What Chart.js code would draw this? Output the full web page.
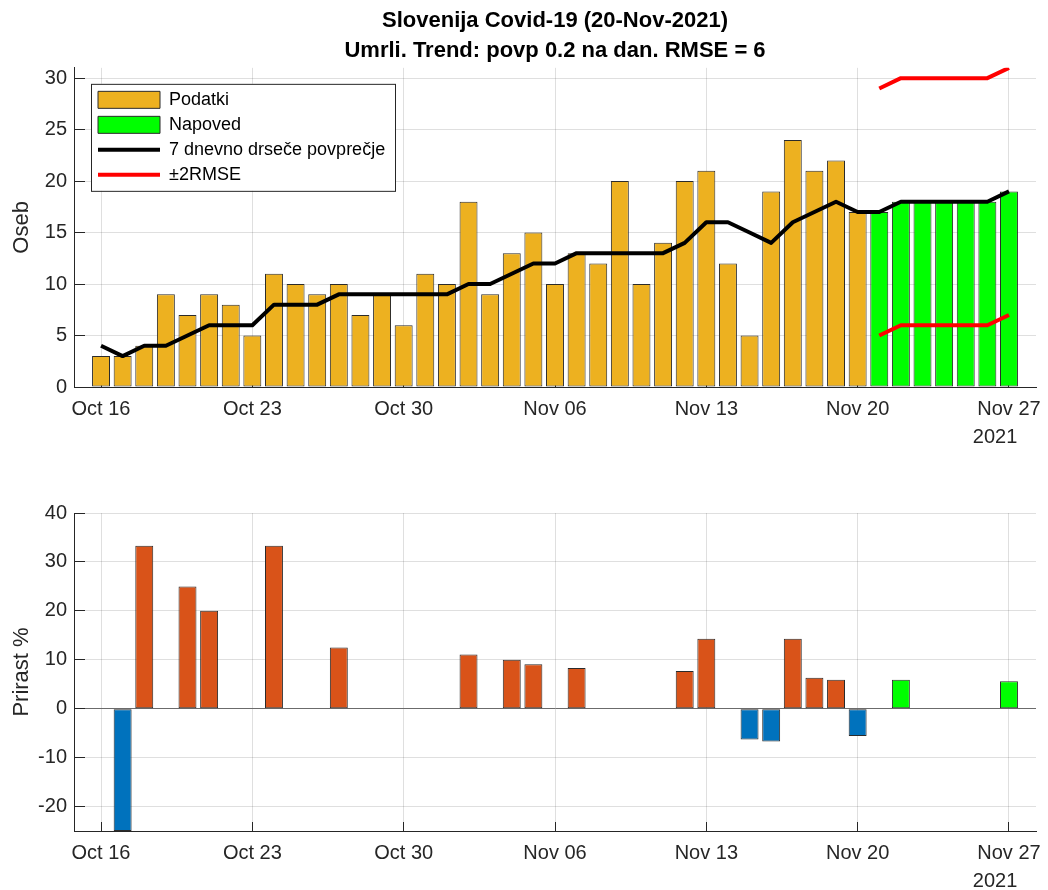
<!DOCTYPE html>
<html>
<head>
<meta charset="utf-8">
<script src="https://cdn.jsdelivr.net/npm/chart.js@4.4.1/dist/chart.umd.min.js"></script>
<style>
body { margin: 0; background: #fff; }
#wrap { position: relative; width: 1048px; height: 890px; }
#top { position: absolute; left: 0; top: 0; }
#bottom { position: absolute; left: 0; top: 460px; }
</style>
</head>
<body>
<div id="wrap">
<canvas id="top" width="1048" height="460"></canvas>
<canvas id="bottom" width="1048" height="430"></canvas>
</div>
<script>
// day 0 = Oct 16 2021
var tickDays = [0, 7, 14, 21, 28, 35, 42];
var tickLabels = ['Oct 16', 'Oct 23', 'Oct 30', 'Nov 06', 'Nov 13', 'Nov 20', ['Nov 27', '2021     ']];

// umrli, Oct 16 - Nov 20
var deaths = [3, 3, 4, 9, 7, 9, 8, 5, 11, 10, 9, 10, 7, 9, 6, 11, 10, 18, 9, 13, 15, 10,
	13, 12, 20, 10, 14, 20, 21, 12, 5, 19, 24, 21, 22, 17];
var deathsStart = 0;
// napoved, Nov 21 - Nov 27
var forecast = [17, 18, 18, 18, 18, 18, 19];
var forecastStart = 36;
// 7 dnevno drsece povprecje, Oct 16 - Nov 27
var average = [4, 3, 4, 4, 5, 6, 6, 6, 8, 8, 8, 9, 9, 9, 9, 9, 9, 10, 10, 11, 12, 12, 13, 13,
	13, 13, 13, 14, 16, 16, 15, 14, 16, 17, 18, 17, 17, 18, 18, 18, 18, 18, 19];
// +-2RMSE, Nov 21 - Nov 27
var upperBand = [29, 30, 30, 30, 30, 30, 31];
var lowerBand = [5, 6, 6, 6, 6, 6, 7];
// prirast %, Oct 17 - Nov 20
var growth = [-25, 33.3, 0, 25, 20, 0, 0, 33.3, 0, 0, 12.5, 0, 0, 0, 0, 0, 11.1, 0, 10, 9.1,
	0, 8.3, 0, 0, 0, 0, 7.7, 14.3, 0, -6.3, -6.7, 14.3, 6.3, 5.9, -5.6];
var growthStart = 1;
// prirast % napoved, Nov 21 - Nov 27
var growthForecast = [0, 5.9, 0, 0, 0, 0, 5.6];

var topTicks = [0, 5, 10, 15, 20, 25, 30];
var bottomTicks = [-20, -10, 0, 10, 20, 30, 40];

var YELLOW = '#EDB120';
var GREEN = '#00FF00';
var ORANGE = '#D95319';
var BLUE = '#0072BD';
var EDGE = '#2b2b2b';
var AXIS = '#262626';
var GRID = 'rgba(38,38,38,0.15)';

Chart.defaults.font.family = "'Liberation Sans', Arial, sans-serif";
Chart.defaults.color = AXIS;

function points(first, values) {
	return values.map(function(v, i) {
		return {x: first + i, y: v};
	});
}

function setTicks(list) {
	return function(scale) {
		scale.ticks = list.map(function(v) {
			return {value: v};
		});
	};
}

function fixWidth(w) {
	return function(scale) {
		scale.width = w;
		scale.paddingTop = scale.paddingBottom = 0;
	};
}

function fixHeight(h) {
	return function(scale) {
		scale.height = h;
		scale.paddingLeft = scale.paddingRight = 0;
	};
}

function xScale(height) {
	return {
		type: 'linear',
		min: -1.25,
		max: 43.25,
		offset: false,
		afterBuildTicks: setTicks(tickDays),
		afterFit: fixHeight(height),
		ticks: {
			autoSkip: false,
			maxRotation: 0,
			padding: 17,
			font: {size: 20, lineHeight: 1.4},
			color: AXIS,
			callback: function(value) {
				return tickLabels[tickDays.indexOf(value)];
			}
		},
		grid: {offset: false, color: GRID, tickColor: AXIS, tickLength: -9},
		border: {color: AXIS, width: 1}
	};
}

function yScale(min, max, list, title, gridColor) {
	return {
		min: min,
		max: max,
		afterBuildTicks: setTicks(list),
		afterFit: fixWidth(74),
		ticks: {padding: 18, font: {size: 20}, color: AXIS},
		grid: {color: gridColor || GRID, tickColor: AXIS, tickLength: -11},
		border: {color: AXIS, width: 1},
		title: {display: true, text: title, font: {size: 22}, color: AXIS, padding: {top: 9, bottom: 0}}
	};
}

// legend frame + shift into the plot, legend itself is the library's
var legendFrame = {
	id: 'legendFrame',
	afterInit: function(chart) {
		var legend = chart.legend;
		var draw = legend.draw.bind(legend);
		legend.draw = function() {
			var ctx = chart.ctx;
			var area = chart.chartArea;
			var pad = legend.options.labels.padding;
			var x0 = Infinity, y0 = Infinity, x1 = -Infinity, y1 = -Infinity;
			legend.legendHitBoxes.forEach(function(b) {
				x0 = Math.min(x0, b.left);
				y0 = Math.min(y0, b.top);
				x1 = Math.max(x1, b.left + b.width);
				y1 = Math.max(y1, b.top + b.height);
			});
			ctx.save();
			ctx.translate(area.left - legend.left + 17, area.top - legend.top + 16);
			ctx.fillStyle = '#fff';
			ctx.fillRect(x0 - pad, y0 - pad, x1 - x0 + 2 * pad + 3, y1 - y0 + 2 * pad);
			ctx.strokeStyle = AXIS;
			ctx.lineWidth = 1;
			ctx.strokeRect(Math.round(x0 - pad) + 0.5, Math.round(y0 - pad) + 0.5,
				Math.round(x1 - x0 + 2 * pad + 3), Math.round(y1 - y0 + 2 * pad));
			draw();
			ctx.restore();
		};
	}
};

var barStyle = {
	type: 'bar',
	grouped: false,
	barPercentage: 0.83,
	categoryPercentage: 1,
	borderWidth: 1,
	borderColor: EDGE,
	borderSkipped: false,
	order: 2
};

var lineStyle = {
	type: 'line',
	borderWidth: 4,
	pointRadius: 0,
	tension: 0,
	fill: false,
	borderJoinStyle: 'round',
	order: 1
};

var topChart = new Chart(document.getElementById('top'), {
	data: {
		datasets: [
			Object.assign({}, barStyle, {label: 'Podatki', data: points(deathsStart, deaths), backgroundColor: YELLOW}),
			Object.assign({}, barStyle, {label: 'Napoved', data: points(forecastStart, forecast), backgroundColor: GREEN}),
			Object.assign({}, lineStyle, {label: '7 dnevno drseče povprečje', data: points(deathsStart, average), borderColor: '#000'}),
			Object.assign({}, lineStyle, {label: '±2RMSE', data: points(forecastStart, upperBand), borderColor: '#FF0000'}),
			Object.assign({}, lineStyle, {label: '-2RMSE', data: points(forecastStart, lowerBand), borderColor: '#FF0000'})
		]
	},
	options: {
		responsive: false,
		animation: false,
		events: [],
		layout: {padding: {left: 0, right: 12, top: 0, bottom: 0}},
		scales: {
			x: xScale(73),
			y: yScale(0, 31, topTicks, 'Oseb')
		},
		plugins: {
			tooltip: {enabled: false},
			title: {
				display: true,
				fullSize: false,
				text: ['Slovenija Covid-19 (20-Nov-2021)', 'Umrli. Trend: povp 0.2 na dan. RMSE = 6'],
				font: {size: 22, weight: 'bold', lineHeight: 1.36},
				color: '#000',
				padding: {top: 6, bottom: 2}
			},
			legend: {
				position: 'chartArea',
				align: 'start',
				labels: {
					usePointStyle: true,
					pointStyleWidth: 62,
					boxHeight: 17,
					padding: 7,
					color: '#000',
					font: {size: 18},
					filter: function(item) {
						return item.datasetIndex !== 4;
					},
					sort: function(a, b) {
						return a.datasetIndex - b.datasetIndex;
					},
					generateLabels: function(chart) {
						var items = Chart.defaults.plugins.legend.labels.generateLabels(chart);
						return items.map(function(item) {
							var ds = chart.data.datasets[item.datasetIndex];
							item.pointStyle = ds.type === 'line' ? 'line' : 'rect';
							return item;
						});
					}
				}
			}
		}
	},
	plugins: [legendFrame]
});

var bottomChart = new Chart(document.getElementById('bottom'), {
	data: {
		datasets: [
			Object.assign({}, barStyle, {
				label: 'Prirast',
				data: points(growthStart, growth),
				backgroundColor: function(c) {
					return c.raw && c.raw.y < 0 ? BLUE : ORANGE;
				}
			}),
			Object.assign({}, barStyle, {label: 'Prirast napoved', data: points(forecastStart, growthForecast), backgroundColor: GREEN})
		]
	},
	options: {
		responsive: false,
		animation: false,
		events: [],
		layout: {padding: {left: 0, right: 12, top: 53, bottom: 0}},
		scales: {
			x: xScale(59),
			y: yScale(-25, 40, bottomTicks, 'Prirast %', function(c) {
				return c.tick && c.tick.value === 0 ? '#6b6b6b' : GRID;
			})
		},
		plugins: {
			tooltip: {enabled: false},
			legend: {display: false}
		}
	}
});
</script>
</body>
</html>
